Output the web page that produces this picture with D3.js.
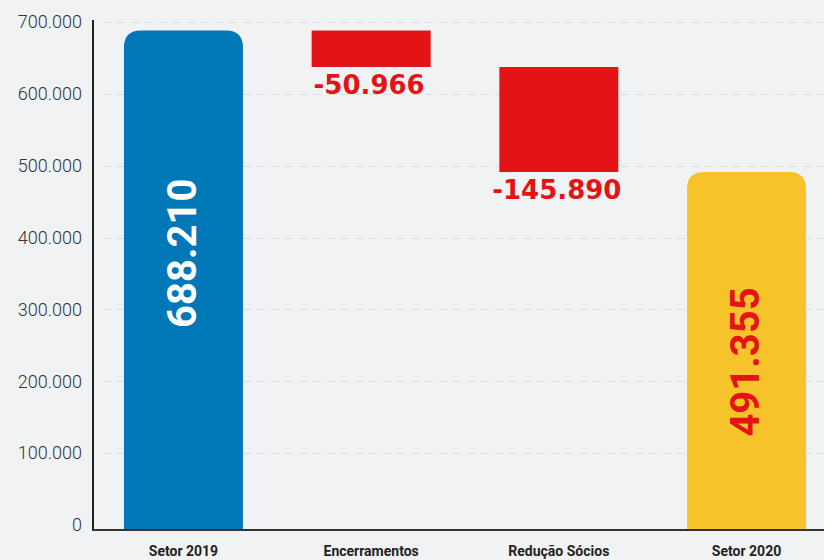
<!DOCTYPE html>
<html>
<head>
<meta charset="utf-8">
<script src="https://cdn.jsdelivr.net/npm/d3@7"></script>
<style>
  html, body { margin: 0; padding: 0; background: #f1f2f4; }
  svg { display: block; }
</style>
</head>
<body>
<svg id="chart" width="824" height="560"></svg>
<script>
// waterfall: start, changes, end
const categories = ['Setor 2019', 'Encerramentos', 'Redução Sócios', 'Setor 2020'];
const values     = [688210, -50966, -145890, 491355];
const kinds      = ['total', 'delta', 'delta', 'total'];
const valueLabels = ['688.210', '-50.966', '-145.890', '491.355'];
const yTicks     = [0, 100000, 200000, 300000, 400000, 500000, 600000, 700000];

const colors = { start: '#0077b7', delta: '#e31316', end: '#f6c42a' };

const svg = d3.select('#chart');
const width = 824, height = 560;
const axisX = 93, baseY = 530;

const y = d3.scaleLinear().domain([0, 700000]).range([525, 22]);
const x = d3.scaleBand()
  .domain(categories)
  .range([axisX, 837])
  .paddingInner(0.366)
  .paddingOuter(0.165);

// build running totals
let running = 0;
const bars = categories.map((c, i) => {
  let lo, hi;
  if (kinds[i] === 'total') {
    lo = 0; hi = values[i]; running = values[i];
  } else {
    hi = running; lo = running + values[i]; running = lo;
  }
  return { cat: c, i, lo, hi, kind: kinds[i], value: values[i], label: valueLabels[i] };
});

// grid lines
svg.append('g')
  .selectAll('line')
  .data(yTicks.filter(d => d > 0))
  .join('line')
    .attr('x1', 103).attr('x2', width)
    .attr('y1', d => Math.round(y(d)) + 0.5).attr('y2', d => Math.round(y(d)) + 0.5)
    .attr('stroke', '#dcdddd')
    .attr('stroke-width', 1.2)
    .attr('stroke-dasharray', '8,6');

// y tick labels
const fmt = d3.formatLocale({ decimal: ',', thousands: '.', grouping: [3], currency: ['', ''] }).format(',d');
svg.append('g')
  .selectAll('text')
  .data(yTicks)
  .join('text')
    .attr('x', 82)
    .attr('y', d => y(d))
    .attr('dy', '0.35em')
    .attr('text-anchor', 'end')
    .attr('font-family', 'Roboto, sans-serif')
    .attr('font-weight', 300)
    .attr('font-size', 18)
    .attr('fill', '#333')
    .text(d => fmt(d));

// rounded-top bar path
function topRounded(x0, y0, w, h, r) {
  r = Math.min(r, w / 2, h);
  return `M${x0},${y0 + h}V${y0 + r}Q${x0},${y0} ${x0 + r},${y0}` +
         `H${x0 + w - r}Q${x0 + w},${y0} ${x0 + w},${y0 + r}V${y0 + h}Z`;
}

const barColor = d => d.kind === 'delta' ? colors.delta : (d.i === 0 ? colors.start : colors.end);

const g = svg.append('g');
g.selectAll('path.bar')
  .data(bars)
  .join('path')
    .attr('class', 'bar')
    .attr('fill', barColor)
    .attr('d', d => {
      const top = y(d.hi);
      const bottom = d.kind === 'total' ? baseY : y(d.lo);
      return d.kind === 'total'
        ? topRounded(x(d.cat), top, x.bandwidth(), bottom - top, 17)
        : `M${x(d.cat)},${top}h${x.bandwidth()}V${bottom}H${x(d.cat)}Z`;
    });

// total labels, rotated inside bars
g.selectAll('text.total')
  .data(bars.filter(d => d.kind === 'total'))
  .join('text')
    .attr('class', 'total')
    .attr('transform', d => `translate(${x(d.cat) + x.bandwidth() / 2 - 2},${(y(d.hi) + baseY) / 2 + (d.i === 0 ? -27 : 11)}) rotate(-90)`)
    .attr('text-anchor', 'middle')
    .attr('dy', '0.36em')
    .attr('font-family', 'Roboto, sans-serif')
    .attr('font-weight', 700)
    .attr('font-size', 40)
    .attr('fill', d => d.i === 0 ? '#ffffff' : colors.delta)
    .text(d => d.label);

// delta labels under bars
g.selectAll('text.delta')
  .data(bars.filter(d => d.kind === 'delta'))
  .join('text')
    .attr('class', 'delta')
    .attr('x', d => x(d.cat) + x.bandwidth() / 2 - 2)
    .attr('y', d => y(d.lo) + 27)
    .attr('text-anchor', 'middle')
    .attr('font-family', '"DejaVu Sans", sans-serif')
    .attr('font-weight', 700)
    .attr('font-size', 26)
    .attr('fill', colors.delta)
    .text(d => d.label);

// axes lines
svg.append('line')
  .attr('x1', axisX).attr('x2', axisX)
  .attr('y1', 20).attr('y2', baseY + 1)
  .attr('stroke', '#222').attr('stroke-width', 2);
svg.append('line')
  .attr('x1', axisX - 1).attr('x2', width)
  .attr('y1', baseY).attr('y2', baseY)
  .attr('stroke', '#333').attr('stroke-width', 2);

// category labels
svg.append('g')
  .selectAll('text')
  .data(categories)
  .join('text')
    .attr('x', d => x(d) + x.bandwidth() / 2)
    .attr('y', 556)
    .attr('text-anchor', 'middle')
    .attr('font-family', 'Roboto, sans-serif')
    .attr('font-weight', 700)
    .attr('font-size', 14)
    .attr('fill', '#222')
    .text(d => d);
</script>
</body>
</html>
